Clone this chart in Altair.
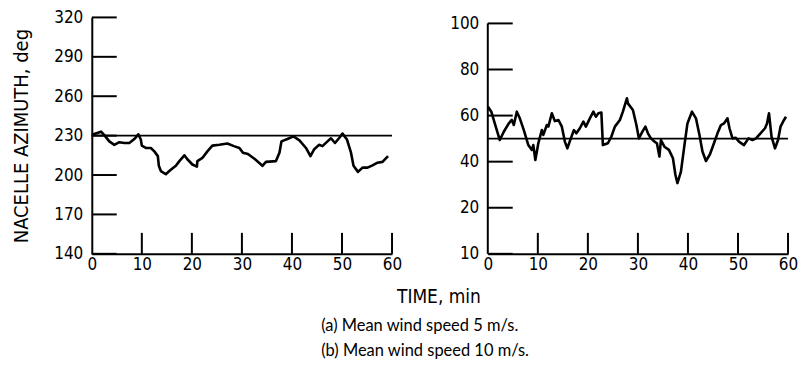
import altair as alt
import pandas as pd

# ---------------- data ----------------
time_a = [0, 1.86, 2.5, 3.5, 4.5, 5.5, 6.5, 7.5, 8.5, 9.3, 9.8, 10, 10.8, 11.8, 12.5, 13.2, 13.4, 13.8,
          14.8, 15.5, 16.1, 16.8, 17.5, 18.5, 19.1, 20.1, 21, 21.1, 22.1, 23.1, 24.1, 25.5, 27.1, 28.4,
          29.5, 30.2, 31.2, 32.5, 34.1, 34.8, 36.8, 37.5, 37.9, 39.1, 40.3, 41.5, 42.8, 43.7, 44.4, 45.4,
          46.1, 47.1, 47.8, 48.6, 49.4, 50.1, 51, 51.8, 52.3, 53.2, 54.1, 55.1, 56.1, 57.1, 58.1, 59.2]
azimuth_a = [230.6, 233, 230.4, 225.6, 223, 225, 224.4, 224.4, 227.4, 231, 227, 222.4, 220.6, 220.6, 218,
             214.4, 207, 203, 200.6, 203, 205, 207, 210.6, 215, 212, 208, 206.4, 210.6, 213, 218, 222.4,
             223, 224, 222, 220.6, 217, 216, 212.4, 207, 210, 210.6, 217, 225.6, 227.4, 229.4, 226.4,
             220.6, 214.4, 219.4, 223, 222, 225.6, 228, 224.4, 228, 231.5, 227, 217, 207, 202.4, 205.6,
             205.6, 207.4, 209.4, 210, 214.4]

time_b = [0, 0.7, 1.5, 2.4, 3.2, 4.2, 4.8, 5.2, 5.8, 6.4, 7.2, 8.1, 8.8, 9.1, 9.5, 10.1, 10.8, 11.1, 11.8,
          12.1, 12.8, 13.4, 14.1, 14.8, 15.4, 15.9, 16.6, 17.2, 17.7, 18.4, 19.1, 19.6, 20.4, 21.1, 21.6,
          22.1, 22.7, 23.0, 24.0, 24.7, 25.4, 26.4, 27.0, 27.8, 28.0, 29.0, 29.7, 30.2, 30.9, 31.5, 32.0,
          32.6, 33.3, 33.8, 34.3, 34.6, 35.3, 36.2, 37.0, 37.5, 37.9, 38.6, 39.3, 39.9, 40.8, 41.6, 42.3,
          42.9, 43.6, 44.4, 45.2, 45.9, 46.6, 47.2, 47.9, 48.3, 48.9, 49.5, 50.2, 51.2, 52.1, 52.9, 53.6,
          54.5, 55.4, 55.8, 56.2, 56.7, 57.4, 58.0, 58.5, 59.2, 59.6]
azimuth_b = [63.9, 61.7, 55.9, 49.4, 53, 56.6, 58.1, 55.9, 61.7, 58.8, 53.7, 47.2, 45.1, 47.2, 40.7, 48,
             53.7, 51.6, 55.9, 55.2, 61, 57.6, 58.1, 55.2, 48.7, 45.8, 50.1, 53.7, 52.3, 54.5, 57.4, 55.2,
             58.8, 61.7, 59.5, 61, 61.3, 47.2, 48, 50.9, 55.2, 58.1, 61.7, 67.5, 65.3, 62.4, 55.9, 50.1,
             53, 55.2, 52.3, 50.1, 48.7, 48, 42.2, 49.4, 46.5, 45.1, 41.5, 34.2, 30.7, 35.7, 47.2, 56.6,
             61.7, 58.8, 51.6, 44.4, 40.3, 43.2, 48, 52.3, 55.9, 56.6, 58.8, 54.5, 50.1, 50.4, 48.7, 47.2,
             50.1, 49.4, 50.1, 52.3, 54.5, 56.6, 61, 50.9, 45.8, 49.4, 55.2, 58.1, 59.5]

x_ticks = [0, 10, 20, 30, 40, 50, 60]
y_ticks_a = [140, 170, 200, 230, 260, 290, 320]
y_ticks_b = [0, 20, 40, 60, 80, 100]
mean_a = [230]
mean_b = [50]
y_b_axis_span = [0, 100]
x_title = "TIME, min"
y_title = "NACELLE AZIMUTH, deg"
captions = "(a) Mean wind speed 5 m/s.\n(b) Mean wind speed 10 m/s."

# ---------------- style ----------------
FONT = "'Liberation Sans Narrow', 'DejaVu Sans Condensed', 'Arial Narrow', sans-serif"
CAP_FONT = "Lato, 'Open Sans', sans-serif"
W, H = 301, 237
TICK_LEN = 25
XTICK_LEN = 21

xs = alt.Scale(domain=[0, 60], nice=False, zero=False)
ys_a = alt.Scale(domain=[140, 320], nice=False, zero=False)
ys_b = alt.Scale(domain=[0, 102.6], nice=False, zero=False)


def x_axis():
    return alt.Axis(values=x_ticks, tickCount=10, ticks=False, grid=False, domain=True,
                    domainColor="black", domainWidth=2, labelFont=FONT, labelFontSize=17,
                    labelColor="black", labelPadding=3, labelFlush=False, labelOverlap=False,
                    title=None)


def panel(times, values, yscale, yticks, mean, yaxis, extra_layers):
    df = pd.DataFrame({"t": times, "v": values})
    line = alt.Chart(df).mark_line(color="black", strokeWidth=2.6, strokeJoin="round").encode(
        x=alt.X("t:Q", scale=xs, axis=x_axis()),
        y=alt.Y("v:Q", scale=yscale, axis=yaxis),
    )
    ref = alt.Chart(pd.DataFrame({"v": mean})).mark_rule(color="black", strokeWidth=1.6).encode(
        y=alt.Y("v:Q", scale=yscale)
    )
    yt = alt.Chart(pd.DataFrame({"v": yticks})).mark_rule(color="black", strokeWidth=2).encode(
        y=alt.Y("v:Q", scale=yscale), x=alt.value(0), x2=alt.value(TICK_LEN)
    )
    xt = alt.Chart(pd.DataFrame({"t": x_ticks[1:]})).mark_rule(color="black", strokeWidth=2).encode(
        x=alt.X("t:Q", scale=xs), y=alt.value(H - XTICK_LEN), y2=alt.value(H)
    )
    return alt.layer(line, ref, yt, xt, *extra_layers).properties(width=W, height=H)


axis_a = alt.Axis(values=y_ticks_a, tickCount=10, ticks=False, grid=False, domain=True,
                  domainColor="black", domainWidth=2, labelFont=FONT, labelFontSize=17,
                  labelColor="black", labelPadding=9, labelFlush=False, labelOverlap=False,
                  title=y_title, titleFont=FONT, titleFontSize=20, titleFontWeight="normal",
                  titleColor="black", titlePadding=22)

axis_b = alt.Axis(values=y_ticks_b, tickCount=10, ticks=False, grid=False, domain=False,
                  labelFont=FONT, labelFontSize=17, labelColor="black", labelPadding=9,
                  labelFlush=False, labelOverlap=False, title=None,
                  labelExpr="datum.value == 0 ? '10' : datum.label")

xtitle = alt.Chart(pd.DataFrame({"s": [x_title]})).mark_text(
    font=FONT, fontSize=19, align="center", baseline="middle", color="black"
).encode(text="s:N", x=alt.value(348), y=alt.value(280))

caps = alt.Chart(pd.DataFrame({"s": [captions]})).mark_text(
    font=CAP_FONT, fontSize=16.5, align="left", baseline="middle", color="black",
    lineBreak="\n", lineHeight=25
).encode(text="s:N", x=alt.value(230), y=alt.value(309))

yline_b = alt.Chart(pd.DataFrame({"v": [y_b_axis_span[0]], "v2": [y_b_axis_span[1]]})).mark_rule(
    color="black", strokeWidth=2
).encode(y=alt.Y("v:Q", scale=ys_b), y2="v2:Q", x=alt.value(0))

left = panel(time_a, azimuth_a, ys_a, y_ticks_a, mean_a, axis_a, [xtitle, caps])
right = panel(time_b, azimuth_b, ys_b, y_ticks_b, mean_b, axis_b, [yline_b])

chart = alt.hconcat(left, right, spacing=96, bounds="flush").resolve_scale(
    y="independent"
).properties(
    padding={"left": 3, "top": 0, "right": 2, "bottom": 2}, background="white"
).configure_view(stroke=None).configure_axis(labelOverlap=False, labelFlush=False)

chart.save("out.html", embed_options={"renderer": "svg", "actions": False})
